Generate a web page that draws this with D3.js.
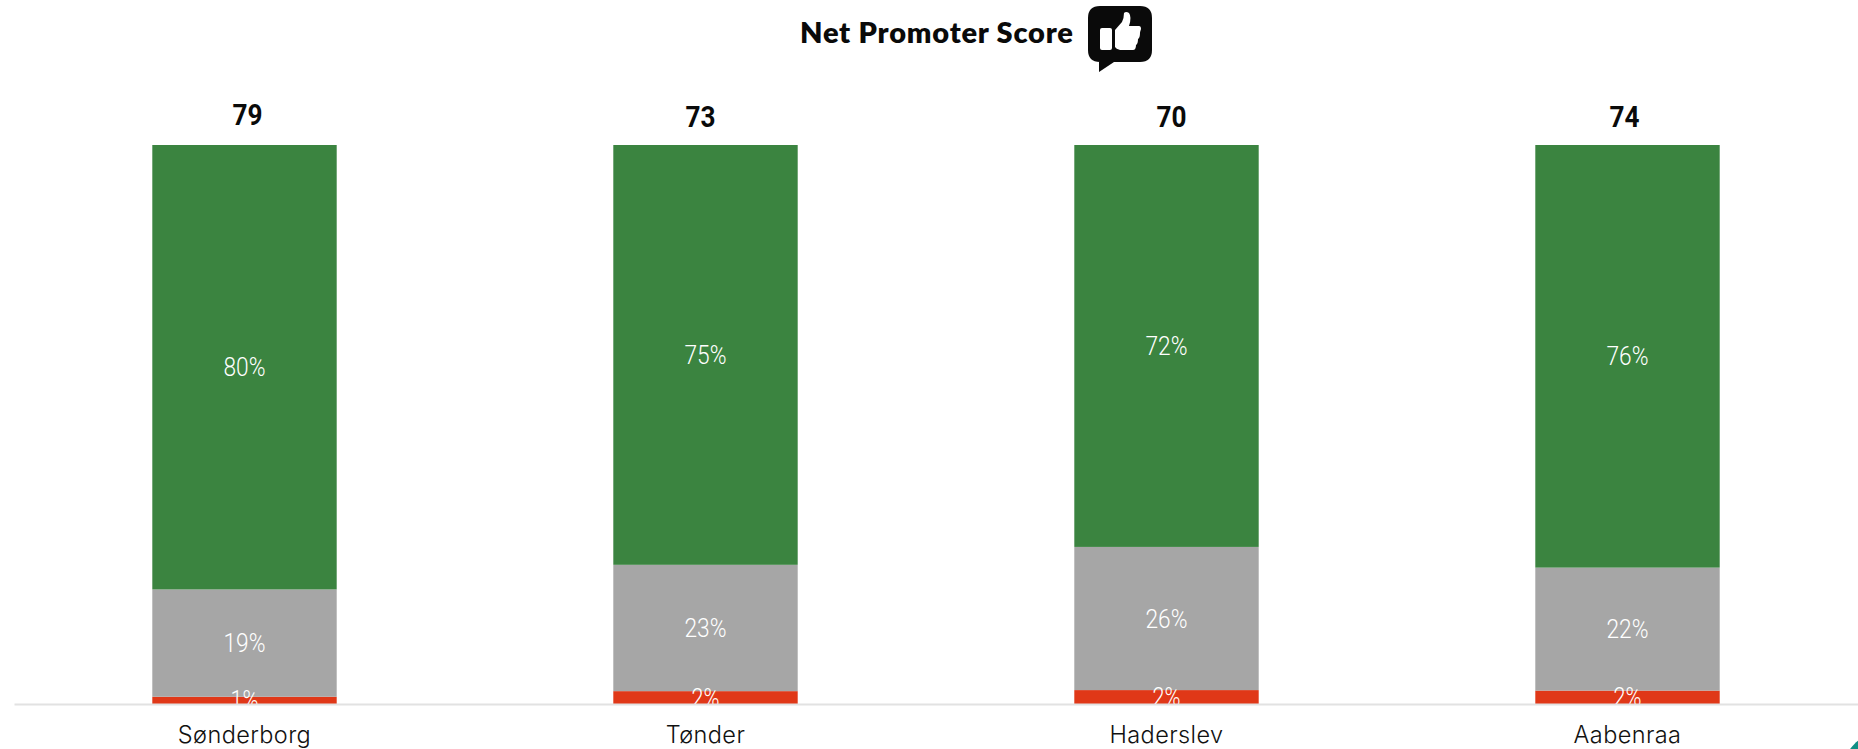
<!DOCTYPE html>
<html><head><meta charset="utf-8">
<script src="https://cdn.jsdelivr.net/npm/d3@7"></script>
<style>html,body{margin:0;padding:0;background:#fff;overflow:hidden}svg{display:block}</style>
</head><body><svg id="c" width="1858" height="749"></svg>
<script>
const categories = ["Sønderborg","Tønder","Haderslev","Aabenraa"];
const scores = [79,73,70,74];
const promoters = [79.5,75.1,71.9,75.6];
const passives = [19.2,22.6,25.61,22.0];
const detractors = [1.3,2.3,2.49,2.4];
const scoreDx = [3,-5,5,-3];
const scoreDy = [-2,0,0,0];

const W=1858,H=749;
const svg=d3.select("#c");
const x=d3.scaleBand().domain(categories).range([14,1858]).paddingInner(0.6).paddingOuter(0.3);
const y=d3.scaleLinear().domain([0,100]).range([704,145]);
const rows=categories.map((c,i)=>({c,detractors:detractors[i],passives:passives[i],promoters:promoters[i]}));
const keys=["detractors","passives","promoters"];
const colors=d3.scaleOrdinal().domain(keys).range(["#e03818","#a6a6a6","#3b8440"]);
const stack=d3.stack().keys(keys)(rows);

svg.append("defs").append("clipPath").attr("id","plot").append("rect").attr("x",0).attr("y",0).attr("width",W).attr("height",y(0)+1);

const bars=svg.append("g");
stack.forEach(s=>{
  bars.selectAll(null).data(s).join("rect")
    .attr("x",d=>x(d.data.c)).attr("width",x.bandwidth())
    .attr("y",d=>y(d[1])).attr("height",d=>y(d[0])-y(d[1]))
    .attr("fill",colors(s.key));
});
const lab=svg.append("g").attr("clip-path","url(#plot)");
stack.forEach(s=>{
  lab.selectAll(null).data(s).join("text")
    .attr("x",d=>x(d.data.c)+x.bandwidth()/2)
    .attr("y",d=>(y(d[0])+y(d[1]))/2+9)
    .attr("text-anchor","middle").attr("fill","#fff")
    .attr("font-family","Roboto, sans-serif").attr("font-weight",300).attr("font-size",26)
    .attr("textLength",s.key==="detractors"?28:42).attr("lengthAdjust","spacingAndGlyphs")
    .text(d=>d3.format(".0f")(d.data[s.key])+"%");
});

const axis=svg.append("g").attr("transform",`translate(0,${y(0)})`)
  .call(d3.axisBottom(x).tickSize(0).tickPadding(22));
axis.select(".domain").attr("stroke","#e2e2e2").attr("stroke-width",2);
axis.selectAll("text").attr("font-family","Inter, sans-serif").attr("font-weight",300).attr("font-size",23.5).attr("letter-spacing",0.4).attr("fill","#111");

svg.append("g").selectAll("text").data(categories).join("text")
  .attr("x",(c,i)=>x(c)+x.bandwidth()/2+scoreDx[i])
  .attr("y",(c,i)=>127+scoreDy[i])
  .attr("text-anchor","middle").attr("fill","#0a0a0a")
  .attr("font-family","Roboto, sans-serif").attr("font-weight",700).attr("font-size",30)
  .attr("textLength",30).attr("lengthAdjust","spacingAndGlyphs")
  .text((c,i)=>scores[i]);

svg.append("text").attr("x",800).attr("y",43)
  .attr("font-family","Lato, sans-serif").attr("font-weight",800).attr("font-size",29)
  .attr("fill","#0a0a0a").attr("textLength",273).attr("lengthAdjust","spacing")
  .text("Net Promoter Score");

const icon=svg.append("g").attr("transform","translate(1088,6)");
icon.append("path").attr("fill","#0a0a0a")
  .attr("d","M12 0H52Q64 0 64 12V44Q64 56 52 56H26L11 66V56H12Q0 56 0 44V12Q0 0 12 0Z");
icon.append("rect").attr("x",12).attr("y",22).attr("width",12).attr("height",22).attr("rx",2).attr("fill","#fff");
icon.append("path").attr("fill","#fff")
  .attr("d","M27 24L34 16Q36 12 36 7Q38 5 41 7Q44 11 41 20L51 20Q53 20 53 23Q52 26 52 27Q52 32 50 33Q50 38 48 39Q48 44 45 44H32Q28 43 27 41Z");

svg.append("circle").attr("cx",1880).attr("cy",770).attr("r",36.5).attr("fill","#0f8f85");
</script></body></html>
